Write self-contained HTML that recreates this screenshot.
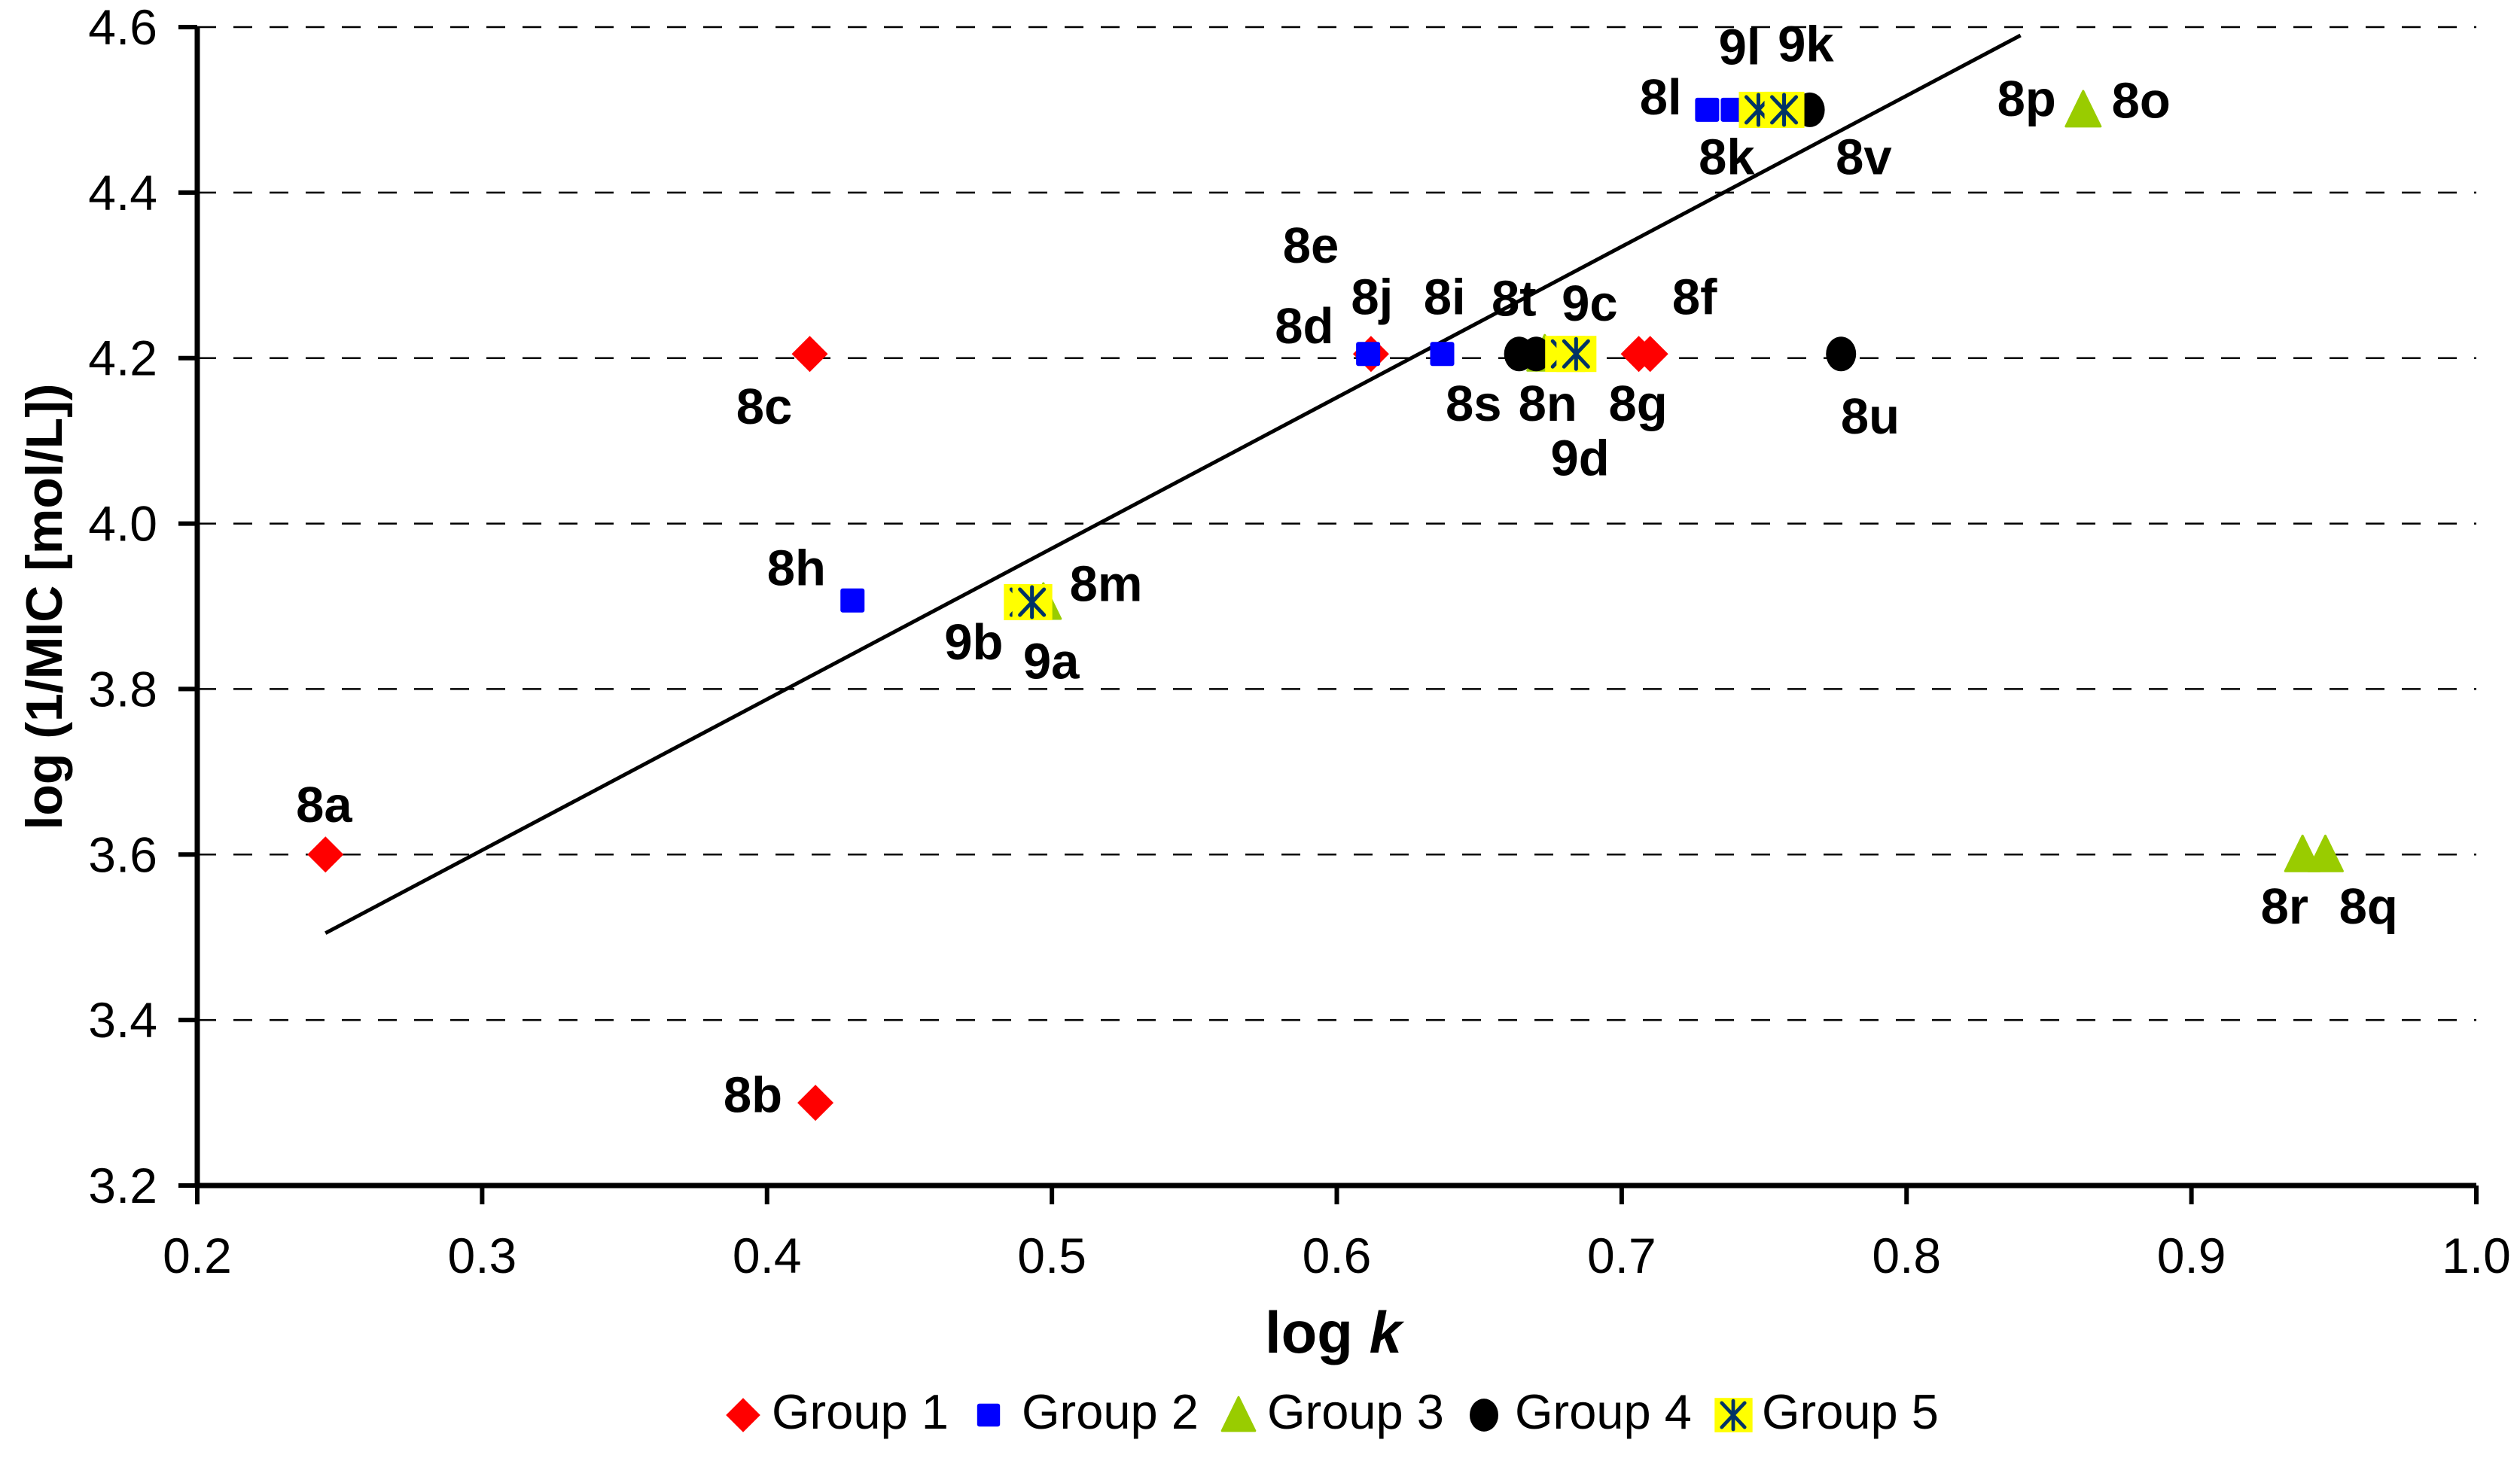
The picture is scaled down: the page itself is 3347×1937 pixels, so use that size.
<!DOCTYPE html>
<html><head><meta charset="utf-8"><style>
html,body{margin:0;padding:0;background:#fff;}
svg{display:block;font-family:"Liberation Sans",Arial,sans-serif;}
</style></head><body>
<svg id="chart" width="3347" height="1937" viewBox="0 0 3347 1937" xmlns="http://www.w3.org/2000/svg">
<g id="grid"></g>
<g id="axes"></g>
<g id="trend"></g>
<g id="marks"></g>
<g id="labels"></g>
<g id="legend"></g>
<text x="1771" y="1797" font-size="78" font-weight="bold" text-anchor="middle">log <tspan font-style="italic">k</tspan></text>
<text transform="translate(82,806) rotate(-90)" font-size="68" font-weight="bold" text-anchor="middle">log (1/MIC [mol/L])</text>
</svg>
<script>
const xTicks = [0.2,0.3,0.4,0.5,0.6,0.7,0.8,0.9,1.0];
const yTicks = [3.2,3.4,3.6,3.8,4.0,4.2,4.4,4.6];
const xTickLabels = ["0.2","0.3","0.4","0.5","0.6","0.7","0.8","0.9","1.0"];
const yTickLabels = ["3.2","3.4","3.6","3.8","4.0","4.2","4.4","4.6"];
const g1x = [0.245,0.417,0.415,0.612,0.706,0.710];
const g1y = [3.600,3.300,4.205,4.205,4.205,4.205];
const g2x = [0.430,0.611,0.637,0.730,0.739];
const g2y = [3.907,4.205,4.205,4.500,4.500];
const g3x = [0.497,0.673,0.862,0.939,0.947];
const g3y = [3.905,4.205,4.500,3.600,3.600];
const g4x = [0.664,0.670,0.777,0.766];
const g4y = [4.205,4.205,4.205,4.500];
const g5x = [0.490,0.493,0.680,0.684,0.748,0.757];
const g5y = [3.905,3.905,4.205,4.205,4.500,4.500];
const trendX = [0.245,0.840];
const trendY = [3.505,4.590];
const labelText = ["8a","8b","8c","8e","8d","8j","8i","8t","9c","8f","8s","8n","8g","9d","8u","8h","8m","9b","9a","9l","9k","8l","8k","8v","8p","8o","8r","8q"];
const labelPX = [201,467,474,813,809,851,896,939,986,1051,914,960,1016,980,1160,494,686,604,652,1079,1120,1030,1071,1156,1257,1328,1417,1469];
const labelPY = [510,690,263,163,213,195,195,196,199,195,261,261,261,295,269,363,373,409,421,40,38,71,108,108,72,73,573,573];

const NS="http://www.w3.org/2000/svg";
const X0=262,X1=3289,Y0=1575,Y1=36;
function sx(v){return X0+(v-0.2)/0.8*(X1-X0);}
function sy(v){return Y0-(v-3.2)/1.4*(Y0-Y1);}
function el(tag,attrs,parent){const e=document.createElementNS(NS,tag);for(const k in attrs)e.setAttribute(k,attrs[k]);parent.appendChild(e);return e;}
const grid=document.getElementById('grid'),axes=document.getElementById('axes'),marks=document.getElementById('marks'),labels=document.getElementById('labels'),legend=document.getElementById('legend'),trend=document.getElementById('trend');

yTicks.forEach((v,i)=>{
  if(i>0){const l=el('line',{x1:X0,x2:X1,y1:sy(v),y2:sy(v),stroke:'#000','stroke-width':2.5,'stroke-dasharray':'25 23'},grid);
  
  }
  const t=el('line',{x1:X0-25,x2:X0,y1:sy(v),y2:sy(v),stroke:'#000','stroke-width':6},axes);
  
  
  const tx=el('text',{x:209,y:sy(v)+23,'font-size':66,'text-anchor':'end'},axes);tx.textContent=yTickLabels[i];
  
  
});
xTicks.forEach((v,i)=>{
  const t=el('line',{x1:sx(v),x2:sx(v),y1:Y0,y2:Y0+25,stroke:'#000','stroke-width':6},axes);
  
  
  const tx=el('text',{x:sx(v),y:1691,'font-size':66,'text-anchor':'middle'},axes);tx.textContent=xTickLabels[i];
  
  
});
const ya=el('line',{x1:X0,x2:X0,y1:Y1,y2:Y0+3,stroke:'#000','stroke-width':7},axes);


const xa=el('line',{x1:X0-3,x2:X1,y1:Y0,y2:Y0,stroke:'#000','stroke-width':7},axes);



const tl=el('line',{x1:sx(trendX[0]),y1:sy(trendY[0]),x2:sx(trendX[1]),y2:sy(trendY[1]),stroke:'#000','stroke-width':5},trend);



function diamond(cx,cy,p,s){return el('polygon',{points:`${cx},${cy-24*s} ${cx+24*s},${cy} ${cx},${cy+24*s} ${cx-24*s},${cy}`,fill:'#ff0000'},p);}
function square(cx,cy,p,s){return el('rect',{x:cx-16*s,y:cy-16*s,width:32*s,height:32*s,rx:3,fill:'#0000ff'},p);}
function tri(cx,cy,p,s){return el('polygon',{points:`${cx},${cy-25*s} ${cx+23*s},${cy+22*s} ${cx-23*s},${cy+22*s}`,fill:'#99cc00','stroke':'#99cc00','stroke-width':3,'stroke-linejoin':'round'},p);}
function circ(cx,cy,p,s){return el('ellipse',{cx:cx,cy:cy,rx:20*s,ry:23*s,fill:'#000'},p);}
function star(cx,cy,p,s){const g=el('g',{},p);
  el('rect',{x:cx-26*s,y:cy-24*s,width:53*s,height:48*s,fill:'#ffff00'},g);
  const c='#003366',w=5*s;
  el('line',{x1:cx,y1:cy-20*s,x2:cx,y2:cy+20*s,stroke:c,'stroke-width':w,'stroke-linecap':'round'},g);
  el('line',{x1:cx-16*s,y1:cy-17*s,x2:cx+16*s,y2:cy+17*s,stroke:c,'stroke-width':w,'stroke-linecap':'round'},g);
  el('line',{x1:cx+16*s,y1:cy-17*s,x2:cx-16*s,y2:cy+17*s,stroke:c,'stroke-width':w,'stroke-linecap':'round'},g);
  return g;}
const groups=[[g1x,g1y,diamond,'group-1-point'],[g2x,g2y,square,'group-2-point'],[g3x,g3y,tri,'group-3-point'],[g4x,g4y,circ,'group-4-point'],[g5x,g5y,star,'group-5-point']];
groups.forEach(([xs,ys,fn,name])=>{xs.forEach((v,i)=>{
  const m=fn(sx(v),sy(ys[i]),marks,1);
  
  
});});

const S=3347/1563;
labelText.forEach((t,i)=>{
  const tx=el('text',{x:labelPX[i]*S,y:labelPY[i]*S,'font-size':67,'font-weight':'bold','text-anchor':'middle'},labels);
  tx.textContent=t;
  
  
});

const legItems=[[987,1025,diamond,'Group 1'],[1313,1357,square,'Group 2'],[1645,1683,tri,'Group 3'],[1971,2012,circ,'Group 4'],[2302,2340,star,'Group 5']];
legItems.forEach(([mx,tx,fn,txt])=>{
  const m=fn(mx,1880,legend,0.95);
  
  
  const t=el('text',{x:tx,y:1898,'font-size':65},legend);t.textContent=txt;
  
  
});
</script>
</body></html>
